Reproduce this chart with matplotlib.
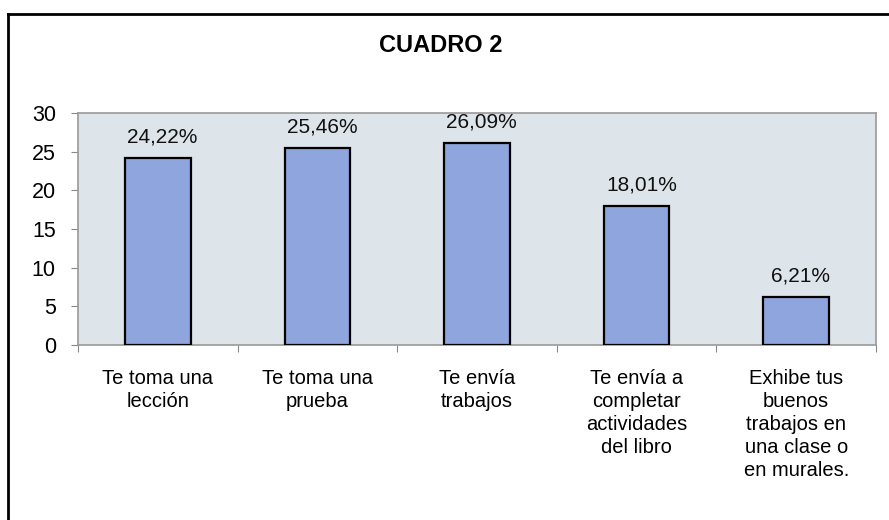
import matplotlib
matplotlib.use("Agg")
import matplotlib.pyplot as plt
from matplotlib.lines import Line2D

categories = [
    "Te toma una\nlección",
    "Te toma una\nprueba",
    "Te envía\ntrabajos",
    "Te envía a\ncompletar\nactividades\ndel libro",
    "Exhibe tus\nbuenos\ntrabajos en\nuna clase o\nen murales.",
]
values = [24.22, 25.46, 26.09, 18.01, 6.21]
labels = ["24,22%", "25,46%", "26,09%", "18,01%", "6,21%"]
yticks = [0, 5, 10, 15, 20, 25, 30]

plt.rcParams['font.family'] = ['Liberation Sans', 'DejaVu Sans']

fig = plt.figure(figsize=(8.89, 5.2), dpi=100)
ax = fig.add_axes([78 / 889, 1 - 345 / 520, 798 / 889, 232 / 520])
ax.set_facecolor("#dde5ea")

x = list(range(len(values)))
ax.bar(x, values, width=0.41, color="#8fa5dd", edgecolor="black", linewidth=1.6, zorder=3)
for xi, v, lab in zip(x, values, labels):
    ax.text(xi + 0.03, v + 2.0, lab, ha="center", va="baseline", fontsize=15, color="#111111")

ax.set_xlim(-0.5, len(values) - 0.5)
ax.set_ylim(0, 30)
ax.set_yticks(yticks)
ax.set_yticklabels([str(t) for t in yticks], fontsize=15.5)
ax.set_xticks([i - 0.5 for i in range(len(values) + 1)])
ax.set_xticklabels([])
ax.set_xticks(x, minor=True)
ax.set_xticklabels(categories, minor=True, fontsize=14.5, va="top", linespacing=1.27)
ax.tick_params(axis="x", which="minor", length=0, pad=17)
ax.tick_params(axis="x", which="major", length=5, color="#888888")
ax.tick_params(axis="y", length=5, color="#888888", pad=11)
for s in ax.spines.values():
    s.set_color("#999999")
    s.set_linewidth(1.2)

fig.text(441 / 889, 1 - 45 / 520, "CUADRO 2", ha="center", va="center",
         fontsize=17, fontweight="bold")

# outer frame of the chart (top and left edges visible)
fig.add_artist(Line2D([8 / 889, 1.0], [1 - 14 / 520, 1 - 14 / 520],
                      transform=fig.transFigure, color="black", linewidth=2))
fig.add_artist(Line2D([8 / 889, 8 / 889], [0.0, 1 - 14 / 520],
                      transform=fig.transFigure, color="black", linewidth=2))

fig.savefig("out.png", dpi=100)
